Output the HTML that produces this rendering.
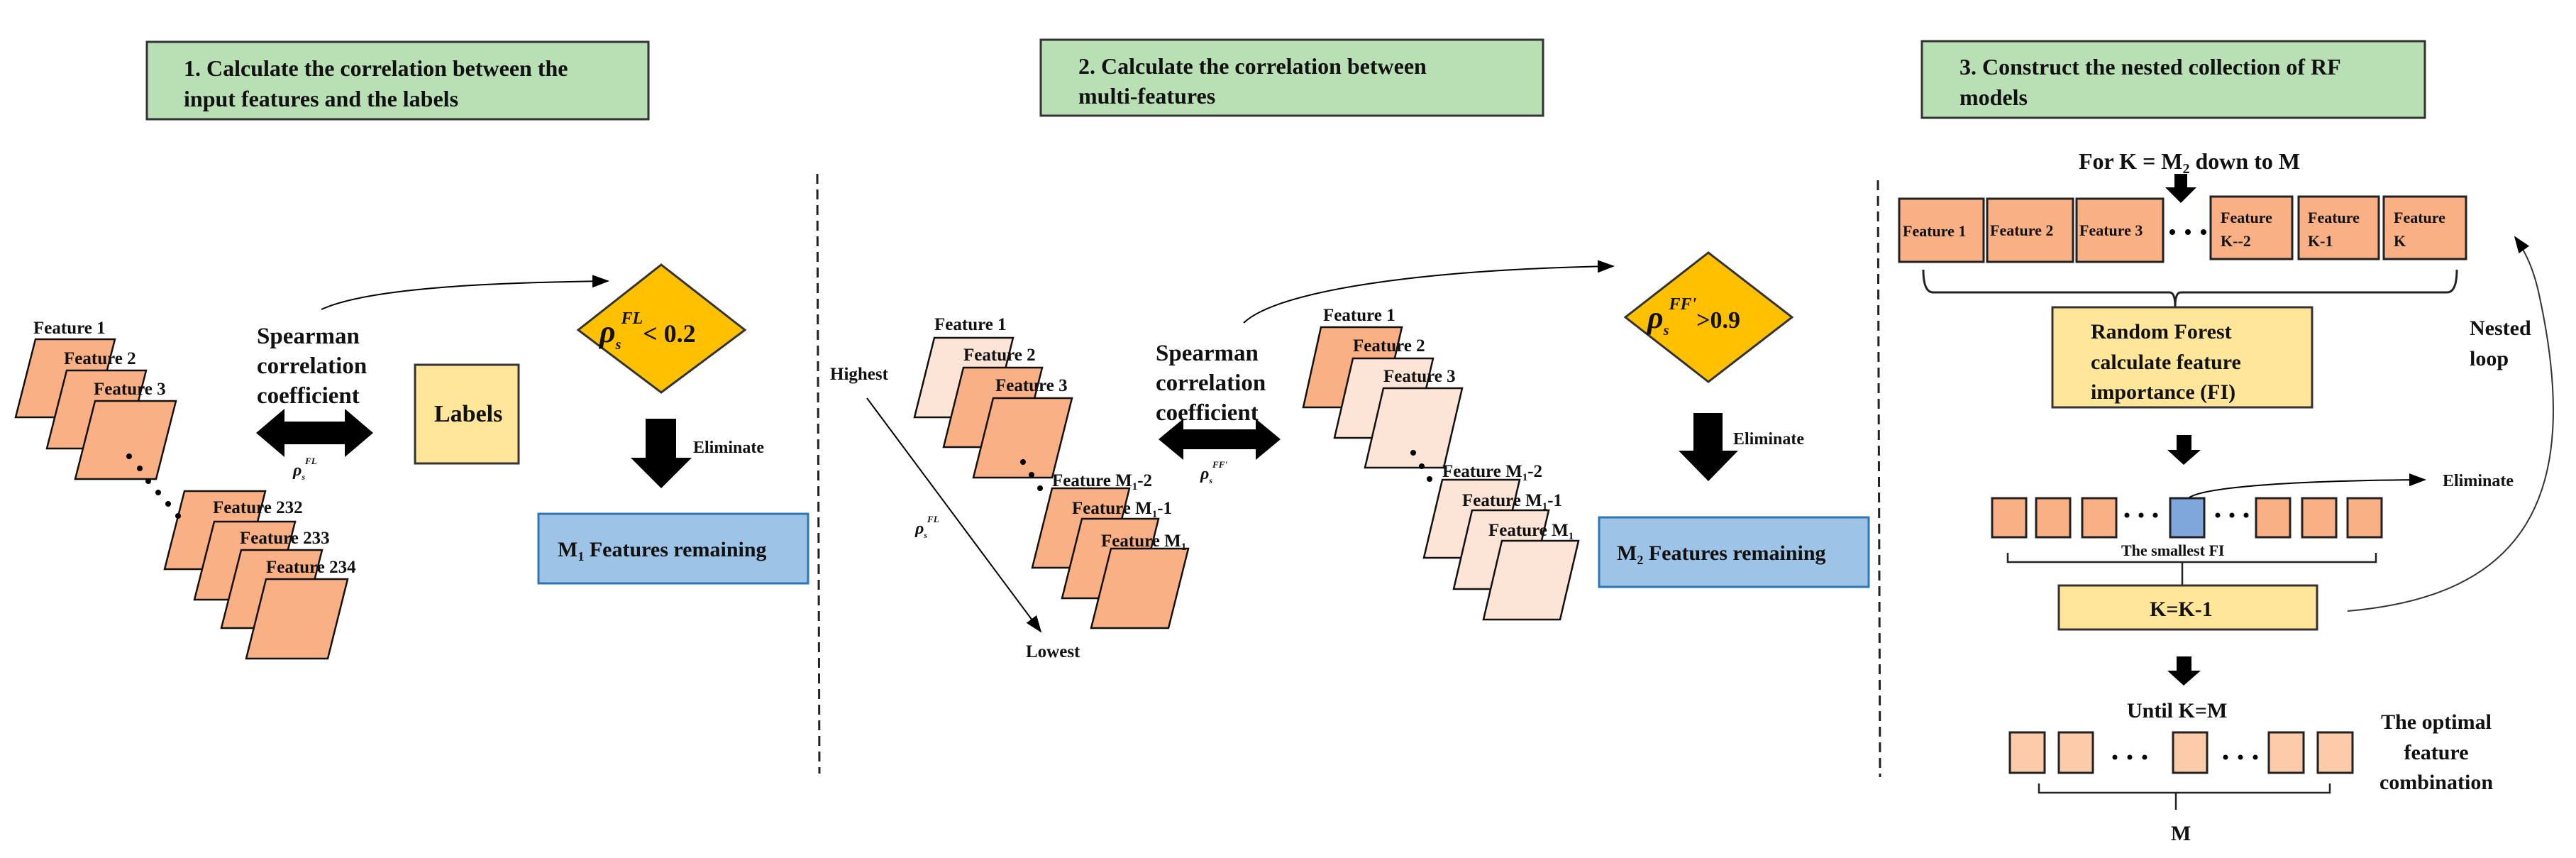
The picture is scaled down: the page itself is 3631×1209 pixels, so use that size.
<!DOCTYPE html>
<html><head><meta charset="utf-8"><style>
html,body{margin:0;padding:0;background:#fff}
svg{display:block}
text{font-family:"Liberation Serif",serif;font-weight:bold;fill:#111}
</style></head><body>
<svg width="3631" height="1209" viewBox="0 0 3631 1209" xmlns="http://www.w3.org/2000/svg">
<defs>
<marker id="ah2" markerWidth="24" markerHeight="18" refX="22" refY="9" orient="auto" markerUnits="userSpaceOnUse" viewBox="0 0 24 18"><path d="M0,0 L24,9 L0,18 z" fill="#000"/></marker>
</defs>

<!-- Title boxes -->
<rect x="207" y="59" width="707" height="109" fill="#B9E0B4" stroke="#333" stroke-width="3"/>
<text x="259" y="107" font-size="32">1. Calculate the correlation between the</text>
<text x="259" y="150" font-size="32">input features and the labels</text>
<rect x="1467" y="56" width="708" height="107" fill="#B9E0B4" stroke="#333" stroke-width="3"/>
<text x="1520" y="104" font-size="32">2. Calculate the correlation between</text>
<text x="1520" y="146" font-size="32">multi-features</text>
<rect x="2709" y="58" width="709" height="108" fill="#B9E0B4" stroke="#333" stroke-width="3"/>
<text x="2762" y="105" font-size="32">3. Construct the nested collection of RF</text>
<text x="2762" y="148" font-size="32">models</text>

<!-- Dashed lines -->
<line x1="1152" y1="245" x2="1155" y2="1090" stroke="#222" stroke-width="3" stroke-dasharray="14,8"/>
<line x1="2647" y1="254" x2="2650" y2="1095" stroke="#222" stroke-width="3" stroke-dasharray="14,8"/>

<!-- Section 1 stack -->
<g stroke="#111" stroke-width="2.5" fill="#F8B084">
<polygon points="50,478 162,478 134,588 22,588"/>
<polygon points="94,522 206,522 178,632 66,632"/>
<polygon points="134,565 248,565 220,675 106,675"/>
<polygon points="260,692 374,692 346,802 232,802"/>
<polygon points="302,735 416,735 388,845 274,845"/>
<polygon points="340,775 454,775 426,885 312,885"/>
<polygon points="375,816 490,816 462,928 347,928"/>
</g>
<text x="47" y="470" font-size="25">Feature 1</text>
<text x="90" y="513" font-size="25">Feature 2</text>
<text x="132" y="556" font-size="25">Feature 3</text>
<text x="300" y="723" font-size="25">Feature 232</text>
<text x="338" y="766" font-size="25">Feature 233</text>
<text x="375" y="807" font-size="25">Feature 234</text>
<g fill="#000">
<circle cx="182" cy="643" r="4"/><circle cx="197" cy="660" r="4"/><circle cx="209" cy="678" r="4"/>
<circle cx="223" cy="694" r="4"/><circle cx="237" cy="710" r="4"/><circle cx="251" cy="727" r="4"/>
</g>
<text x="362" y="484" font-size="33">Spearman</text>
<text x="362" y="526" font-size="33">correlation</text>
<text x="362" y="568" font-size="33">coefficient</text>
<polygon points="361,610 401,576 401,594 486,594 486,576 526,610 486,644 486,626 401,626 401,644" fill="#000"/>
<text x="413" y="670" font-size="24" font-style="italic" font-weight="normal">ρ<tspan font-size="12" dy="6">s</tspan><tspan font-size="13" dy="-22">FL</tspan></text>
<rect x="585" y="514" width="146" height="139" fill="#FFE699" stroke="#333" stroke-width="3"/>
<text x="612" y="594" font-size="34">Labels</text>
<path d="M453,436 C520,405 700,398 857,396" fill="none" stroke="#000" stroke-width="2" marker-end="url(#ah2)"/>
<polygon points="932,373 1050,465 932,553 815,465" fill="#FFC000" stroke="#333" stroke-width="3"/>
<text x="845" y="482" font-size="44" font-style="italic" font-weight="normal">ρ<tspan font-size="20" dy="10" font-weight="bold">s</tspan><tspan font-size="24" dy="-36" font-weight="bold">FL</tspan><tspan font-size="36" dy="26" font-style="normal" font-weight="bold">&lt; 0.2</tspan></text>
<polygon points="910,590 953,590 953,645 975,645 932,688 889,645 910,645" fill="#000"/>
<text x="977" y="638" font-size="24">Eliminate</text>
<rect x="759" y="724" width="380" height="98" fill="#9DC3E6" stroke="#2E75B6" stroke-width="3"/>
<text x="786" y="784" font-size="30">M<tspan font-size="18" dy="6">1</tspan><tspan dy="-6"> Features remaining</tspan></text>

<!-- Section 2 -->
<text x="1170" y="535" font-size="25">Highest</text>
<line x1="1222" y1="561" x2="1467" y2="890" stroke="#000" stroke-width="2" marker-end="url(#ah2)"/>
<text x="1290" y="752" font-size="24" font-style="italic" font-weight="normal">ρ<tspan font-size="12" dy="6">s</tspan><tspan font-size="13" dy="-22">FL</tspan></text>
<text x="1446" y="926" font-size="25">Lowest</text>
<g stroke="#111" stroke-width="2.5">
<polygon points="1317,476 1428,476 1400,588 1289,588" fill="#FCE4D6"/>
<polygon points="1358,518 1469,518 1441,630 1330,630" fill="#F8B084"/>
<polygon points="1400,561 1511,561 1483,673 1372,673" fill="#F8B084"/>
<polygon points="1483,688 1592,688 1564,800 1455,800" fill="#F8B084"/>
<polygon points="1525,731 1633,731 1605,843 1497,843" fill="#F8B084"/>
<polygon points="1566,773 1675,773 1647,885 1538,885" fill="#F8B084"/>
</g>
<text x="1317" y="465" font-size="25">Feature 1</text>
<text x="1358" y="508" font-size="25">Feature 2</text>
<text x="1403" y="551" font-size="25">Feature 3</text>
<text x="1483" y="685" font-size="25">Feature M<tspan font-size="15" dy="5">1</tspan><tspan dy="-5">-2</tspan></text>
<text x="1511" y="724" font-size="25">Feature M<tspan font-size="15" dy="5">1</tspan><tspan dy="-5">-1</tspan></text>
<text x="1552" y="770" font-size="25">Feature M<tspan font-size="15" dy="5">1</tspan></text>
<g fill="#000"><circle cx="1442" cy="651" r="4"/><circle cx="1454" cy="669" r="4"/><circle cx="1466" cy="688" r="4"/></g>
<text x="1629" y="508" font-size="33">Spearman</text>
<text x="1629" y="550" font-size="33">correlation</text>
<text x="1629" y="592" font-size="33">coefficient</text>
<polygon points="1633,619 1668,590 1668,605 1770,605 1770,590 1805,619 1770,648 1770,633 1668,633 1668,648" fill="#000"/>
<text x="1692" y="675" font-size="24" font-style="italic" font-weight="normal">ρ<tspan font-size="12" dy="6">s</tspan><tspan font-size="13" dy="-22">FF'</tspan></text>
<path d="M1753,455 C1800,410 2000,380 2274,375" fill="none" stroke="#000" stroke-width="2" marker-end="url(#ah2)"/>
<g stroke="#111" stroke-width="2.5">
<polygon points="1862,461 1976,461 1950,574 1837,574" fill="#F8B084"/>
<polygon points="1907,505 2020,505 1994,617 1881,617" fill="#FCE4D6"/>
<polygon points="1950,547 2061,547 2035,659 1924,659" fill="#FCE4D6"/>
<polygon points="2033,676 2142,676 2116,786 2007,786" fill="#FCE4D6"/>
<polygon points="2075,719 2183,719 2157,830 2049,830" fill="#FCE4D6"/>
<polygon points="2117,762 2225,762 2199,873 2091,873" fill="#FCE4D6"/>
</g>
<text x="1865" y="452" font-size="25">Feature 1</text>
<text x="1907" y="495" font-size="25">Feature 2</text>
<text x="1950" y="538" font-size="25">Feature 3</text>
<text x="2033" y="672" font-size="25">Feature M<tspan font-size="15" dy="5">1</tspan><tspan dy="-5">-2</tspan></text>
<text x="2061" y="713" font-size="25">Feature M<tspan font-size="15" dy="5">1</tspan><tspan dy="-5">-1</tspan></text>
<text x="2098" y="755" font-size="25">Feature M<tspan font-size="15" dy="5">1</tspan></text>
<g fill="#000"><circle cx="1992" cy="638" r="4"/><circle cx="2004" cy="657" r="4"/><circle cx="2015" cy="675" r="4"/></g>
<polygon points="2408,356 2526,447 2408,538 2291,447" fill="#FFC000" stroke="#333" stroke-width="3"/>
<text x="2322" y="462" font-size="44" font-style="italic" font-weight="normal">ρ<tspan font-size="20" dy="10" font-weight="bold">s</tspan><tspan font-size="24" dy="-36">FF'</tspan><tspan font-size="34" dy="26" font-style="normal" font-weight="bold">&gt;0.9</tspan></text>
<polygon points="2387,582 2428,582 2428,635 2450,635 2408,678 2366,635 2387,635" fill="#000"/>
<text x="2443" y="626" font-size="24">Eliminate</text>
<rect x="2254" y="729" width="380" height="98" fill="#9DC3E6" stroke="#2E75B6" stroke-width="3"/>
<text x="2279" y="789" font-size="30">M<tspan font-size="18" dy="6">2</tspan><tspan dy="-6"> Features remaining</tspan></text>

<!-- Section 3 -->
<text x="2930" y="238" font-size="32">For K = M<tspan font-size="20" dy="6">2</tspan><tspan dy="-6"> down to M</tspan></text>
<polygon points="3065,245 3083,245 3083,264 3096,264 3074,286 3052,264 3065,264" fill="#000"/>
<g stroke="#222" stroke-width="3" fill="#F8B084">
<rect x="2677" y="280" width="119" height="89"/>
<rect x="2801" y="280" width="121" height="89"/>
<rect x="2927" y="280" width="122" height="89"/>
<rect x="3116" y="277" width="115" height="88"/>
<rect x="3240" y="277" width="113" height="88"/>
<rect x="3360" y="277" width="116" height="88"/>
</g>
<text x="2682" y="333" font-size="22">Feature 1</text>
<text x="2805" y="332" font-size="22">Feature 2</text>
<text x="2931" y="332" font-size="22">Feature 3</text>
<text x="3130" y="314" font-size="22">Feature</text>
<text x="3130" y="347" font-size="22">K--2</text>
<text x="3253" y="314" font-size="22">Feature</text>
<text x="3253" y="347" font-size="22">K-1</text>
<text x="3374" y="314" font-size="22">Feature</text>
<text x="3374" y="347" font-size="22">K</text>
<g fill="#000"><circle cx="3062" cy="327" r="4"/><circle cx="3084" cy="327" r="4"/><circle cx="3106" cy="327" r="4"/></g>
<path d="M2711,380 Q2711,412 2725,412 L3058,412 Q3066,412 3066,432 Q3066,412 3074,412 L3449,412 Q3463,412 3463,380" fill="none" stroke="#222" stroke-width="3"/>
<rect x="2893" y="433" width="366" height="141" fill="#FFE699" stroke="#333" stroke-width="3"/>
<text x="2947" y="477" font-size="30">Random Forest</text>
<text x="2947" y="520" font-size="30">calculate feature</text>
<text x="2947" y="562" font-size="30">importance (FI)</text>
<polygon points="3068,613 3089,613 3089,634 3102,634 3078,655 3055,634 3068,634" fill="#000"/>
<g stroke="#222" stroke-width="3" fill="#F8B084">
<rect x="2808" y="702" width="48" height="55"/>
<rect x="2870" y="702" width="48" height="55"/>
<rect x="2935" y="702" width="48" height="55"/>
<rect x="3059" y="702" width="48" height="55" fill="#7FA7DC"/>
<rect x="3180" y="702" width="48" height="55"/>
<rect x="3245" y="702" width="48" height="55"/>
<rect x="3309" y="702" width="48" height="55"/>
</g>
<g fill="#000">
<circle cx="2998" cy="726" r="3.5"/><circle cx="3018" cy="726" r="3.5"/><circle cx="3038" cy="726" r="3.5"/>
<circle cx="3126" cy="726" r="3.5"/><circle cx="3146" cy="726" r="3.5"/><circle cx="3166" cy="726" r="3.5"/>
</g>
<path d="M3086,701 C3110,685 3250,677 3418,676" fill="none" stroke="#000" stroke-width="2" marker-end="url(#ah2)"/>
<text x="3443" y="685" font-size="24">Eliminate</text>
<text x="2990" y="783" font-size="22">The smallest FI</text>
<path d="M2830,779 L2830,792 L3349,792 L3349,779 M3076,792 L3076,825" fill="none" stroke="#222" stroke-width="2.5"/>
<rect x="2902" y="825" width="364" height="62" fill="#FFE699" stroke="#333" stroke-width="3"/>
<text x="3030" y="868" font-size="30">K=K-1</text>
<path d="M3309,861 C3560,840 3640,700 3580,420 C3572,380 3560,355 3545,334" fill="none" stroke="#333" stroke-width="2" marker-end="url(#ah2)"/>
<text x="3481" y="472" font-size="30">Nested</text>
<text x="3481" y="515" font-size="30">loop</text>
<polygon points="3068,925 3089,925 3089,945 3102,945 3078,966 3055,945 3068,945" fill="#000"/>
<text x="2998" y="1011" font-size="30">Until K=M</text>
<g stroke="#222" stroke-width="3" fill="#FBCBAA">
<rect x="2833" y="1032" width="49" height="57"/>
<rect x="2902" y="1032" width="48" height="57"/>
<rect x="3063" y="1032" width="48" height="57"/>
<rect x="3198" y="1032" width="49" height="57"/>
<rect x="3267" y="1032" width="49" height="57"/>
</g>
<g fill="#000">
<circle cx="2981" cy="1067" r="3.5"/><circle cx="3002" cy="1067" r="3.5"/><circle cx="3023" cy="1067" r="3.5"/>
<circle cx="3137" cy="1067" r="3.5"/><circle cx="3158" cy="1067" r="3.5"/><circle cx="3179" cy="1067" r="3.5"/>
</g>
<path d="M2874,1104 L2874,1117 L3284,1117 L3284,1104 M3067,1117 L3067,1141" fill="none" stroke="#222" stroke-width="2.5"/>
<text x="3074" y="1184" font-size="30" text-anchor="middle">M</text>
<text x="3434" y="1027" font-size="30" text-anchor="middle">The optimal</text>
<text x="3434" y="1070" font-size="30" text-anchor="middle">feature</text>
<text x="3434" y="1112" font-size="30" text-anchor="middle">combination</text>
</svg>
</body></html>
